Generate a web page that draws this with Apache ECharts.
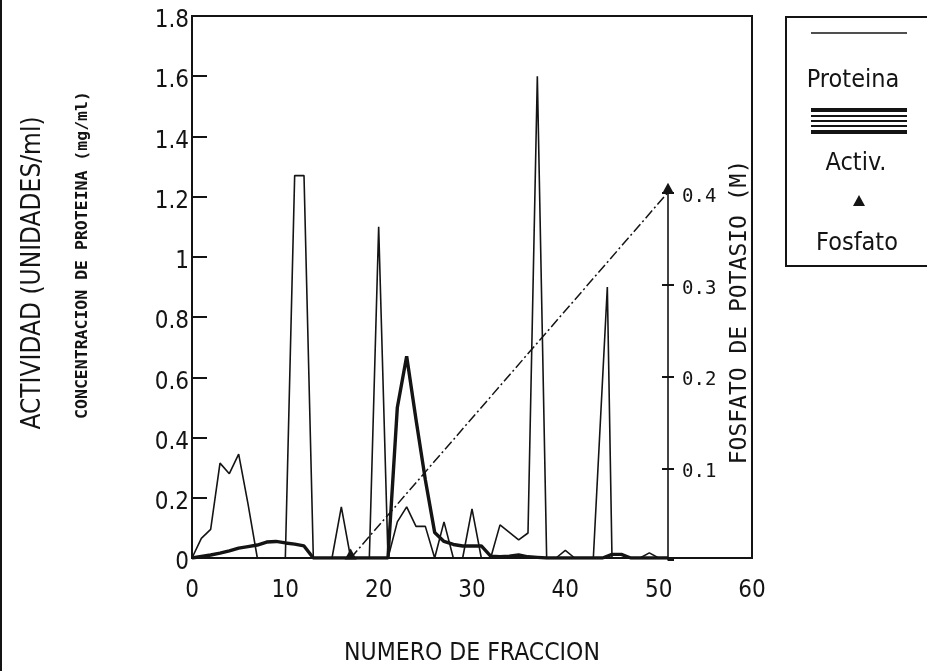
<!DOCTYPE html>
<html>
<head>
<meta charset="utf-8">
<script src="https://cdn.jsdelivr.net/npm/echarts@6/dist/echarts.min.js"></script>
<style>
html,body{margin:0;padding:0;background:#ffffff;}
#chart{width:927px;height:671px;}
</style>
</head>
<body>
<div id="chart"></div>
<script>
// ---- data ----
const proteinFraction = [0,1,2,3,4,5,6,7,8,9,10,11,12,13,14,15,16,17,18,19,20,21,22,23,24,25,26,27,28,29,30,31,32,33,34,35,36,37,38,39,40,41,42,43,44.5,45,46,47,48,49,50,51];
const proteinValues   = [0,0.065,0.095,0.315,0.28,0.345,0.18,0,0,0,0,1.27,1.27,0,0,0,0.17,0,0,0,1.1,0,0.12,0.17,0.105,0.105,0,0.12,0,0,0.163,0,0,0.11,0.085,0.06,0.083,1.6,0,0,0.025,0,0,0,0.9,0,0,0,0,0.017,0,0];

const activityFraction = [0,1,2,3,4,5,6,7,8,9,10,11,12,13,14,15,16,17,18,19,20,21,22,23,24,25,26,27,28,29,30,31,32,33,34,35,36,37,38,39,40,41,42,43,44,45,46,47,48,49,50,51];
const activityValues   = [0,0.005,0.01,0.016,0.024,0.033,0.038,0.043,0.053,0.055,0.05,0.046,0.04,0,0,0,0,0,0,0,0,0,0.5,0.67,0.46,0.26,0.085,0.055,0.045,0.04,0.04,0.04,0.006,0.004,0.006,0.01,0.004,0.002,0,0,0,0,0,0,0,0.012,0.012,0,0,0,0,0];

const phosphateFraction = [17, 51];
const phosphateValues   = [0, 0.4];

const xTickValues = [0,10,20,30,40,50,60];
const leftTickMax = 1.8, leftTickStep = 0.2;
const rightTickMax = 0.4, rightTickStep = 0.1;

const legendNames = ['Proteina', 'Activ.', 'Fosfato'];
const xTitle = 'NUMERO DE FRACCION';
const yTitleA = 'ACTIVIDAD (UNIDADES/ml)';
const yTitleB = 'CONCENTRACION DE PROTEINA (mg/ml)';
const yTitleR = 'FOSFATO DE POTASIO (M)';

// ---- chart ----
const INK = '#141414';
const NARROW = "'Liberation Sans Narrow','DejaVu Sans Condensed','Liberation Sans',sans-serif";
const MONO = "'DejaVu Sans Mono','Liberation Mono',monospace";

const pairs = (xs, ys) => xs.map((x, i) => [x, ys[i]]);

const gridTop = 16, gridBottomY = 560;
const phosTopY = 193;
const hiddenMax = rightTickMax * (gridBottomY - gridTop) / (gridBottomY - phosTopY);

const chart = echarts.init(document.getElementById('chart'), null, {renderer: 'canvas'});
chart.setOption({
  backgroundColor: '#ffffff',
  animation: false,
  grid: [
    {left: 192, top: gridTop, width: 560, height: gridBottomY - gridTop, show: true,
     borderColor: INK, borderWidth: 2, backgroundColor: 'transparent'},
    {left: 668, top: phosTopY, width: 20, height: gridBottomY - phosTopY, show: false}
  ],
  xAxis: [
    {type: 'value', gridIndex: 0, min: xTickValues[0], max: xTickValues[xTickValues.length - 1],
     interval: xTickValues[1] - xTickValues[0],
     name: xTitle, nameLocation: 'middle', nameGap: 83,
     nameTextStyle: {fontFamily: NARROW, fontSize: 24.5, color: INK},
     axisLine: {show: true, onZero: false, lineStyle: {color: INK, width: 2}},
     axisTick: {show: false},
     axisLabel: {fontFamily: NARROW, fontSize: 24, color: INK, margin: 21},
     splitLine: {show: false}},
    {type: 'value', gridIndex: 1, min: 0, max: 1, show: false}
  ],
  yAxis: [
    {type: 'value', gridIndex: 0, min: 0, max: leftTickMax, interval: leftTickStep,
     axisLine: {show: true, lineStyle: {color: INK, width: 2}},
     axisTick: {show: true, inside: true, length: 15, lineStyle: {color: INK, width: 2}},
     axisLabel: {fontFamily: NARROW, fontSize: 24, color: INK, margin: 3,
                 verticalAlign: 'top', lineHeight: 10},
     splitLine: {show: false}},
    {type: 'value', gridIndex: 0, min: 0, max: hiddenMax, show: false},
    {type: 'value', gridIndex: 1, position: 'left', min: 0, max: rightTickMax, interval: rightTickStep,
     axisLine: {show: true, lineStyle: {color: INK, width: 1.6}},
     axisTick: {show: true, inside: false, length: 6, lineStyle: {color: INK, width: 2}},
     axisLabel: {inside: true, showMinLabel: false, fontFamily: MONO, fontSize: 19, color: INK, margin: 14,
                 verticalAlign: 'top', lineHeight: 8},
     splitLine: {show: false}},
    {type: 'value', gridIndex: 1, position: 'left', min: 0, max: rightTickMax, interval: rightTickStep,
     axisLine: {show: false},
     axisTick: {show: true, inside: true, length: 6, lineStyle: {color: INK, width: 2}},
     axisLabel: {show: false},
     splitLine: {show: false}}
  ],
  series: [
    {name: legendNames[0], type: 'line', xAxisIndex: 0, yAxisIndex: 0,
     data: pairs(proteinFraction, proteinValues), symbol: 'none',
     lineStyle: {color: INK, width: 1.6}, z: 3},
    {name: legendNames[1], type: 'line', xAxisIndex: 0, yAxisIndex: 0,
     data: pairs(activityFraction, activityValues), symbol: 'none',
     lineStyle: {color: INK, width: 3.4}, z: 4},
    {name: legendNames[2], type: 'line', xAxisIndex: 0, yAxisIndex: 1,
     data: pairs(phosphateFraction, phosphateValues),
     symbol: 'triangle', symbolSize: [12, 11], symbolOffset: [0, -4],
     itemStyle: {color: INK}, clip: false,
     lineStyle: {color: INK, width: 1.5, type: [10, 3, 2, 3]}, z: 5}
  ],
  graphic: [
    // scan frame edge on the left
    {type: 'line', shape: {x1: 1, y1: 0, x2: 1, y2: 671}, style: {stroke: INK, lineWidth: 2}},
    // axis titles
    {type: 'text', x: 33, y: 273, rotation: Math.PI / 2,
     style: {text: yTitleA, fill: INK, fontFamily: NARROW, fontSize: 26,
             textAlign: 'center', textVerticalAlign: 'middle', align: 'center', verticalAlign: 'middle'}},
    {type: 'text', x: 83, y: 255, rotation: Math.PI / 2,
     style: {text: yTitleB, fill: INK, fontFamily: MONO, fontSize: 16.5, fontWeight: 'bold',
             textAlign: 'center', textVerticalAlign: 'middle', align: 'center', verticalAlign: 'middle'}},
    {type: 'text', x: 740, y: 312, rotation: Math.PI / 2,
     style: {text: yTitleR, fill: INK, fontFamily: MONO, fontSize: 23,
             textAlign: 'center', textVerticalAlign: 'middle', align: 'center', verticalAlign: 'middle'}},
    // legend box
    {type: 'rect', shape: {x: 786, y: 17, width: 145, height: 249},
     style: {fill: 'none', stroke: INK, lineWidth: 2}},
    {type: 'line', shape: {x1: 811, y1: 33, x2: 907, y2: 33}, style: {stroke: INK, lineWidth: 1.6}},
    {type: 'text', x: 853, y: 80,
     style: {text: legendNames[0], fill: INK, fontFamily: NARROW, fontSize: 25,
             textAlign: 'center', textVerticalAlign: 'middle', align: 'center', verticalAlign: 'middle'}},
    {type: 'line', shape: {x1: 811, y1: 110, x2: 907, y2: 110}, style: {stroke: INK, lineWidth: 4}},
    {type: 'line', shape: {x1: 811, y1: 116, x2: 907, y2: 116}, style: {stroke: INK, lineWidth: 2}},
    {type: 'line', shape: {x1: 811, y1: 121, x2: 907, y2: 121}, style: {stroke: INK, lineWidth: 2}},
    {type: 'line', shape: {x1: 811, y1: 126, x2: 907, y2: 126}, style: {stroke: INK, lineWidth: 2}},
    {type: 'line', shape: {x1: 811, y1: 132, x2: 907, y2: 132}, style: {stroke: INK, lineWidth: 4}},
    {type: 'text', x: 856, y: 163,
     style: {text: legendNames[1], fill: INK, fontFamily: NARROW, fontSize: 25,
             textAlign: 'center', textVerticalAlign: 'middle', align: 'center', verticalAlign: 'middle'}},
    {type: 'polygon', shape: {points: [[859, 195], [853, 206], [865, 206]]}, style: {fill: INK}},
    {type: 'text', x: 857, y: 243,
     style: {text: legendNames[2], fill: INK, fontFamily: NARROW, fontSize: 25,
             textAlign: 'center', textVerticalAlign: 'middle', align: 'center', verticalAlign: 'middle'}}
  ]
});
</script>
</body>
</html>
